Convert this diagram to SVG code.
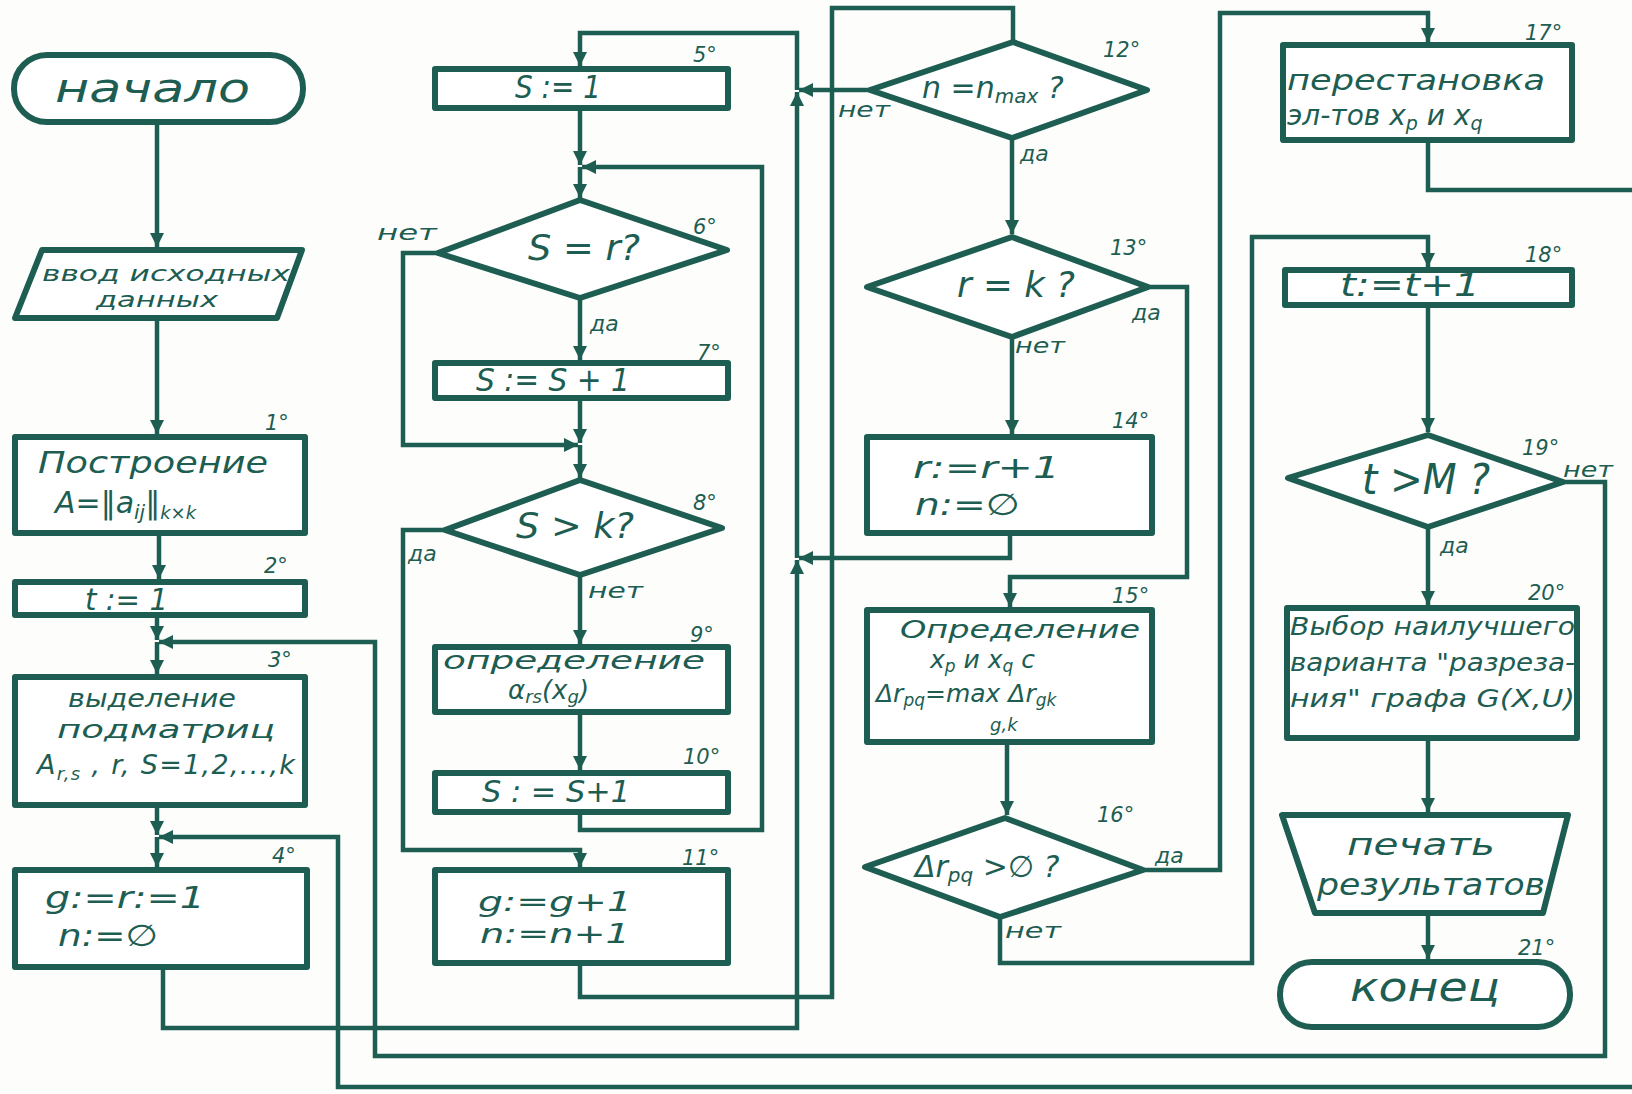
<svg xmlns="http://www.w3.org/2000/svg" width="1632" height="1094" viewBox="0 0 1632 1094">
<style>
.n{fill:#ffffff;stroke:#1d5d52;stroke-width:6;stroke-linejoin:round}
.c{fill:none;stroke:#1d5d52;stroke-width:4.5;stroke-linejoin:miter}
.t{font-family:"DejaVu Sans","Liberation Sans",sans-serif;font-style:italic;fill:#1d5d52}
.b{font-size:22px}
.num{font-size:21px}
</style>
<defs>
<marker id="arr" markerUnits="userSpaceOnUse" markerWidth="14" markerHeight="18" viewBox="0 0 14 18" refX="14" refY="9" orient="auto">
<path d="M0,2 L14,9 L0,16 Z" fill="#1d5d52"/>
</marker>
</defs>
<rect x="0" y="0" width="1632" height="1094" fill="#fdfefc"/>

<g id="connectors">
<path class="c" d="M157,122 V247" marker-end="url(#arr)"/>
<path class="c" d="M157,318 V434" marker-end="url(#arr)"/>
<path class="c" d="M159,533 V579" marker-end="url(#arr)"/>
<path class="c" d="M157,615 V640" marker-end="url(#arr)"/>
<path class="c" d="M157,642 V674" marker-end="url(#arr)"/>
<path class="c" d="M157,805 V835" marker-end="url(#arr)"/>
<path class="c" d="M157,837 V867" marker-end="url(#arr)"/>
<path class="c" d="M1563,482 H1605 V1056 H375 V642 H159" marker-end="url(#arr)"/>
<path class="c" d="M1428,140 V190 H1632"/>
<path class="c" d="M1632,1087 H338 V837 H159" marker-end="url(#arr)"/>
<path class="c" d="M163,967 V1028 H797 V560" marker-end="url(#arr)"/>
<path class="c" d="M797,558 V92" marker-end="url(#arr)"/>
<path class="c" d="M797,90 V33 H580 V66" marker-end="url(#arr)"/>
<path class="c" d="M1010,533 V558 H799" marker-end="url(#arr)"/>
<path class="c" d="M870,90 H799" marker-end="url(#arr)"/>
<path class="c" d="M580,108 V165" marker-end="url(#arr)"/>
<path class="c" d="M580,167 V198" marker-end="url(#arr)"/>
<path class="c" d="M580,812 V830 H762 V167 H582" marker-end="url(#arr)"/>
<path class="c" d="M438,253 H403 V445 H578" marker-end="url(#arr)"/>
<path class="c" d="M580,298 V360" marker-end="url(#arr)"/>
<path class="c" d="M580,398 V443" marker-end="url(#arr)"/>
<path class="c" d="M580,445 V478" marker-end="url(#arr)"/>
<path class="c" d="M445,530 H403 V850 H580 V867" marker-end="url(#arr)"/>
<path class="c" d="M580,575 V644" marker-end="url(#arr)"/>
<path class="c" d="M580,712 V770" marker-end="url(#arr)"/>
<path class="c" d="M580,963 V997 H832 V8 H1013 V42"/>
<path class="c" d="M1012,138 V234" marker-end="url(#arr)"/>
<path class="c" d="M1012,337 V434" marker-end="url(#arr)"/>
<path class="c" d="M1148,287 H1187 V577 H1010 V607" marker-end="url(#arr)"/>
<path class="c" d="M1007,742 V815" marker-end="url(#arr)"/>
<path class="c" d="M1143,870 H1220 V13 H1428 V42" marker-end="url(#arr)"/>
<path class="c" d="M1000,917 V963 H1252 V237 H1428 V267" marker-end="url(#arr)"/>
<path class="c" d="M1428,305 V432" marker-end="url(#arr)"/>
<path class="c" d="M1428,527 V605" marker-end="url(#arr)"/>
<path class="c" d="M1428,738 V812" marker-end="url(#arr)"/>
<path class="c" d="M1428,913 V959" marker-end="url(#arr)"/>
</g>

<g id="start">
<rect class="n" x="14" y="55" width="289" height="67" rx="33"/>
<text class="t" x="55" y="102" font-size="40" textLength="195" lengthAdjust="spacingAndGlyphs">начало</text>
</g>

<g id="input">
<polygon class="n" points="42,250 302,250 277,318 15,318"/>
<text class="t" x="42" y="281" font-size="21" textLength="248" lengthAdjust="spacingAndGlyphs">ввод исходных</text>
<text class="t" x="96" y="307" font-size="21" textLength="122" lengthAdjust="spacingAndGlyphs">данных</text>
</g>

<g id="n1">
<rect class="n" x="15" y="437" width="290" height="96"/>
<text class="t num" x="265" y="430">1°</text>
<text class="t" x="38" y="473" font-size="30" textLength="230" lengthAdjust="spacingAndGlyphs">Построение</text>
<text class="t" x="55" y="513" font-size="30">A=‖a<tspan font-size="20" dy="6">ij</tspan><tspan dy="-6">‖</tspan><tspan font-size="18" dy="6">k×k</tspan></text>
</g>

<g id="n2">
<rect class="n" x="15" y="582" width="290" height="33"/>
<text class="t num" x="264" y="573">2°</text>
<text class="t" x="85" y="610" font-size="30" textLength="83" lengthAdjust="spacingAndGlyphs">t := 1</text>
</g>

<g id="n3">
<rect class="n" x="15" y="677" width="290" height="128"/>
<text class="t num" x="268" y="667">3°</text>
<text class="t" x="68" y="707" font-size="25" textLength="168" lengthAdjust="spacingAndGlyphs">выделение</text>
<text class="t" x="57" y="738" font-size="25" textLength="218" lengthAdjust="spacingAndGlyphs">подматриц</text>
<text class="t" x="37" y="774" font-size="27" textLength="258" lengthAdjust="spacing">A<tspan font-size="18" dy="6">r,s</tspan><tspan dy="-6"> , r, S=1,2,...,k</tspan></text>
</g>

<g id="n4">
<rect class="n" x="15" y="870" width="292" height="97"/>
<text class="t num" x="272" y="863">4°</text>
<text class="t" x="45" y="908" font-size="30" textLength="160" lengthAdjust="spacingAndGlyphs">g:=r:=1</text>
<text class="t" x="58" y="946" font-size="30" textLength="100" lengthAdjust="spacingAndGlyphs">n:=∅</text>
</g>

<g id="n5">
<rect class="n" x="435" y="69" width="293" height="39"/>
<text class="t num" x="693" y="62">5°</text>
<text class="t" x="515" y="98" font-size="32" textLength="86" lengthAdjust="spacingAndGlyphs">S := 1</text>
</g>

<g id="n6">
<polygon class="n" points="580,200 727,250 580,298 438,253"/>
<text class="t num" x="693" y="234">6°</text>
<text class="t" x="528" y="260" font-size="36" textLength="112" lengthAdjust="spacingAndGlyphs">S = r?</text>
<text class="t b" x="377" y="240" textLength="60" lengthAdjust="spacingAndGlyphs">нет</text>
<text class="t b" x="590" y="331">да</text>
</g>

<g id="n7">
<rect class="n" x="435" y="363" width="293" height="35"/>
<text class="t num" x="697" y="360">7°</text>
<text class="t" x="476" y="391" font-size="32" textLength="154" lengthAdjust="spacingAndGlyphs">S := S + 1</text>
</g>

<g id="n8">
<polygon class="n" points="580,480 722,528 580,575 445,530"/>
<text class="t num" x="693" y="510">8°</text>
<text class="t" x="516" y="538" font-size="36" textLength="118" lengthAdjust="spacingAndGlyphs">S &gt; k?</text>
<text class="t b" x="408" y="561">да</text>
<text class="t b" x="588" y="598" textLength="55" lengthAdjust="spacingAndGlyphs">нет</text>
</g>

<g id="n9">
<rect class="n" x="435" y="647" width="293" height="65"/>
<text class="t num" x="690" y="642">9°</text>
<text class="t" x="443" y="669" font-size="25" textLength="262" lengthAdjust="spacingAndGlyphs">определение</text>
<text class="t" x="508" y="699" font-size="26">α<tspan font-size="18" dy="4">rs</tspan><tspan dy="-4">(x</tspan><tspan font-size="18" dy="4">g</tspan><tspan dy="-4">)</tspan></text>
</g>

<g id="n10">
<rect class="n" x="435" y="773" width="293" height="39"/>
<text class="t num" x="683" y="764">10°</text>
<text class="t" x="482" y="802" font-size="30" textLength="148" lengthAdjust="spacingAndGlyphs">S : = S+1</text>
</g>

<g id="n11">
<rect class="n" x="435" y="870" width="293" height="93"/>
<text class="t num" x="682" y="865">11°</text>
<text class="t" x="478" y="911" font-size="26" textLength="154" lengthAdjust="spacingAndGlyphs">g:=g+1</text>
<text class="t" x="480" y="943" font-size="26" textLength="150" lengthAdjust="spacingAndGlyphs">n:=n+1</text>
</g>

<g id="n12">
<polygon class="n" points="1013,42 1147,90 1012,138 870,90"/>
<text class="t num" x="1103" y="57">12°</text>
<text class="t" x="922" y="98" font-size="30">n =n<tspan font-size="20" dy="5">max</tspan><tspan dy="-5"> ?</tspan></text>
<text class="t b" x="838" y="117" textLength="52" lengthAdjust="spacingAndGlyphs">нет</text>
<text class="t b" x="1020" y="161">да</text>
</g>

<g id="n13">
<polygon class="n" points="1012,237 1148,287 1012,337 867,287"/>
<text class="t num" x="1110" y="255">13°</text>
<text class="t" x="957" y="297" font-size="36" textLength="118" lengthAdjust="spacingAndGlyphs">r = k ?</text>
<text class="t b" x="1132" y="320">да</text>
<text class="t b" x="1015" y="353" textLength="50" lengthAdjust="spacingAndGlyphs">нет</text>
</g>

<g id="n14">
<rect class="n" x="867" y="437" width="285" height="96"/>
<text class="t num" x="1112" y="428">14°</text>
<text class="t" x="913" y="478" font-size="30" textLength="147" lengthAdjust="spacingAndGlyphs">r:=r+1</text>
<text class="t" x="915" y="515" font-size="30" textLength="105" lengthAdjust="spacingAndGlyphs">n:=∅</text>
</g>

<g id="n15">
<rect class="n" x="867" y="610" width="285" height="132"/>
<text class="t num" x="1112" y="603">15°</text>
<text class="t" x="900" y="638" font-size="24" textLength="240" lengthAdjust="spacingAndGlyphs">Определение</text>
<text class="t" x="930" y="668" font-size="25">x<tspan font-size="17" dy="4">p</tspan><tspan dy="-4">  и  x</tspan><tspan font-size="17" dy="4">q</tspan><tspan dy="-4">   c</tspan></text>
<text class="t" x="876" y="702" font-size="25">Δr<tspan font-size="17" dy="4">pq</tspan><tspan dy="-4">=max Δr</tspan><tspan font-size="17" dy="4">gk</tspan></text>
<text class="t" x="990" y="731" font-size="18">g,k</text>
</g>

<g id="n16">
<polygon class="n" points="1005,818 1143,870 1000,917 865,867"/>
<text class="t num" x="1097" y="822">16°</text>
<text class="t" x="915" y="877" font-size="30">Δr<tspan font-size="20" dy="5">pq</tspan><tspan dy="-5"> &gt;∅ ?</tspan></text>
<text class="t b" x="1155" y="863">да</text>
<text class="t b" x="1005" y="938" textLength="56" lengthAdjust="spacingAndGlyphs">нет</text>
</g>

<g id="n17">
<rect class="n" x="1283" y="45" width="289" height="95"/>
<text class="t num" x="1525" y="40">17°</text>
<text class="t" x="1287" y="90" font-size="28" textLength="258" lengthAdjust="spacingAndGlyphs">перестановка</text>
<text class="t" x="1287" y="125" font-size="28">эл-тов x<tspan font-size="19" dy="5">p</tspan><tspan dy="-5"> и x</tspan><tspan font-size="19" dy="5">q</tspan></text>
</g>

<g id="n18">
<rect class="n" x="1285" y="270" width="287" height="35"/>
<text class="t num" x="1525" y="262">18°</text>
<text class="t" x="1340" y="296" font-size="32" textLength="140" lengthAdjust="spacingAndGlyphs">t:=t+1</text>
</g>

<g id="n19">
<polygon class="n" points="1428,435 1563,482 1428,527 1288,478"/>
<text class="t num" x="1522" y="455">19°</text>
<text class="t" x="1362" y="494" font-size="42" textLength="128" lengthAdjust="spacingAndGlyphs">t &gt;M ?</text>
<text class="t b" x="1563" y="477" textLength="50" lengthAdjust="spacingAndGlyphs">нет</text>
<text class="t b" x="1440" y="553">да</text>
</g>

<g id="n20">
<rect class="n" x="1287" y="608" width="290" height="130"/>
<text class="t num" x="1528" y="600">20°</text>
<text class="t" x="1290" y="635" font-size="24" textLength="285" lengthAdjust="spacingAndGlyphs">Выбор наилучшего</text>
<text class="t" x="1290" y="671" font-size="24" textLength="285" lengthAdjust="spacingAndGlyphs">варианта "разреза-</text>
<text class="t" x="1290" y="707" font-size="24" textLength="285" lengthAdjust="spacingAndGlyphs">ния" графа G(X,U)</text>
</g>

<g id="print">
<polygon class="n" points="1282,815 1568,815 1543,913 1315,913"/>
<text class="t" x="1347" y="855" font-size="30" textLength="148" lengthAdjust="spacingAndGlyphs">печать</text>
<text class="t" x="1317" y="895" font-size="30" textLength="228" lengthAdjust="spacingAndGlyphs">результатов</text>
</g>

<g id="end">
<rect class="n" x="1280" y="962" width="290" height="65" rx="32"/>
<text class="t num" x="1518" y="955">21°</text>
<text class="t" x="1350" y="1001" font-size="40" textLength="150" lengthAdjust="spacingAndGlyphs">конец</text>
</g>
</svg>
